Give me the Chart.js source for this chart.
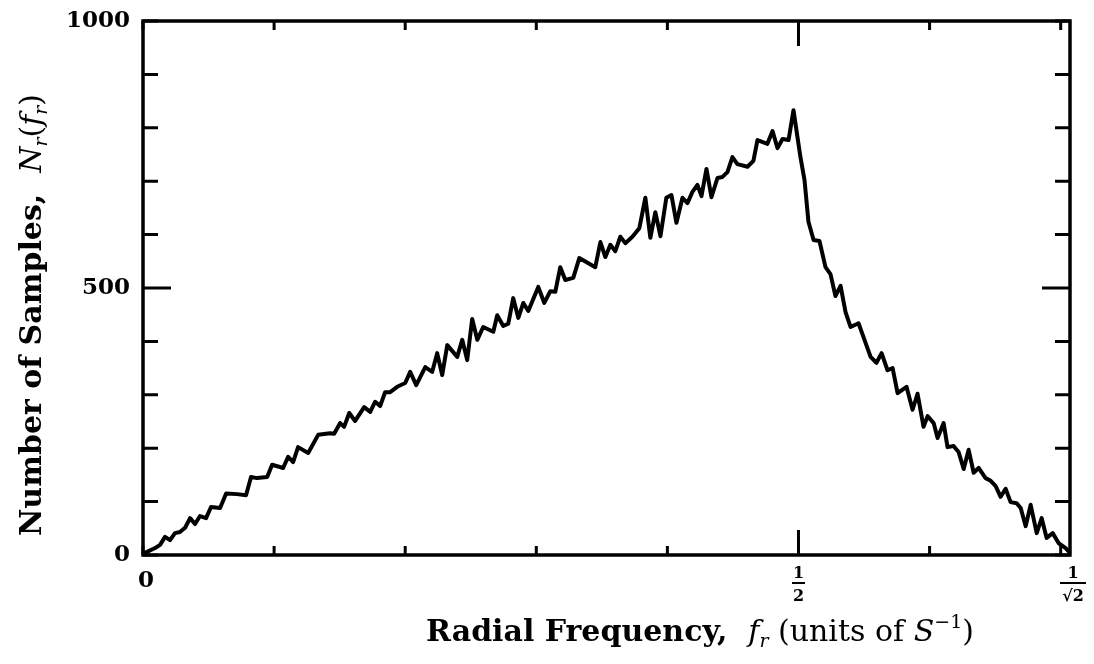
<!DOCTYPE html>
<html>
<head>
<meta charset="utf-8">
<title>Number of Samples vs Radial Frequency</title>
<script src="https://cdn.jsdelivr.net/npm/chart.js@4/dist/chart.umd.min.js"></script>
<style>
  html, body { margin: 0; padding: 0; background: #fff; }
  #chart { display: block; }
</style>
</head>
<body>
<canvas id="chart" width="1094" height="664"></canvas>
<script>
// radial frequency (units of S^-1)
const freq = [
  0, 0.0015, 0.0092, 0.0130, 0.0168, 0.0206, 0.0244, 0.0282, 0.0321, 0.0359, 0.0397,
  0.0435, 0.0481, 0.0519, 0.0588, 0.0634, 0.0718, 0.0786, 0.0824, 0.0870, 0.0947,
  0.0985, 0.1069, 0.1107, 0.1145, 0.1183, 0.1260, 0.1336, 0.1427, 0.1458, 0.1504,
  0.1534, 0.1573, 0.1618, 0.1687, 0.1733, 0.1771, 0.1809, 0.1847, 0.1885, 0.1939,
  0.2000, 0.2038, 0.2084, 0.2153, 0.2206, 0.2244, 0.2282, 0.2321, 0.2397, 0.2435,
  0.2473, 0.2511, 0.2550, 0.2595, 0.2672, 0.2702, 0.2748, 0.2786, 0.2824, 0.2863,
  0.2901, 0.2939, 0.3015, 0.3061, 0.3107, 0.3145, 0.3183, 0.3221, 0.3282, 0.3328,
  0.3450, 0.3489, 0.3527, 0.3565, 0.3603, 0.3641, 0.3679, 0.3733, 0.3786, 0.3832,
  0.3870, 0.3908, 0.3947, 0.3992, 0.4031, 0.4069, 0.4115, 0.4153, 0.4191, 0.4229,
  0.4260, 0.4298, 0.4336, 0.4382, 0.4420, 0.4458, 0.4496, 0.4534, 0.4611, 0.4656,
  0.4687, 0.4763, 0.4802, 0.4840, 0.4878, 0.4924, 0.4962, 0.4992, 0.5015, 0.5046,
  0.5076, 0.5115, 0.5160, 0.5206, 0.5244, 0.5282, 0.5321, 0.5359, 0.5397, 0.5458,
  0.5496, 0.5550, 0.5595, 0.5634, 0.5679, 0.5718, 0.5756, 0.5824, 0.5870, 0.5908,
  0.5954, 0.5985, 0.6031, 0.6061, 0.6107, 0.6137, 0.6183, 0.6221, 0.6260, 0.6298,
  0.6336, 0.6374, 0.6427, 0.6466, 0.6504, 0.6542, 0.6580, 0.6618, 0.6664, 0.6695,
  0.6733, 0.6771, 0.6817, 0.6855, 0.6893, 0.6939, 0.6985, 0.7038, 0.7071
];

// number of samples N_r(f_r) at each vertex
const counts = [
  0, 4, 13, 19, 34, 28, 41, 43, 51, 69, 58,
  73, 69, 90, 88, 115, 114, 112, 146, 144, 146,
  169, 163, 184, 174, 202, 191, 225, 228, 227, 247,
  240, 266, 251, 277, 268, 287, 279, 305, 305, 315,
  322, 343, 318, 352, 343, 378, 337, 393, 371, 403,
  365, 442, 403, 427, 418, 449, 429, 433, 481, 444,
  472, 457, 502, 472, 494, 493, 539, 515, 519, 556,
  539, 586, 558, 581, 569, 596, 584, 596, 612, 669,
  594, 642, 597, 669, 674, 622, 669, 659, 680, 693,
  672, 723, 670, 706, 708, 717, 745, 732, 727, 738,
  777, 770, 794, 762, 779, 777, 833, 783, 745, 702,
  624, 590, 588, 539, 526, 485, 504, 455, 427, 434,
  408, 371, 360, 378, 346, 350, 303, 315, 272, 302,
  240, 260, 247, 219, 247, 202, 204, 193, 161, 197,
  154, 163, 144, 139, 129, 109, 124, 99, 97, 88,
  54, 94, 41, 69, 32, 41, 22, 13, 4
];

// axis ticks
const xTicks = [0, 0.1, 0.2, 0.3, 0.4, 0.5, 0.6, 0.7];
const xMajor = [0.5];
const xMax = Math.SQRT1_2;
const yTicks = [0, 100, 200, 300, 400, 500, 600, 700, 800, 900, 1000];
const yLabels = ["0", "500", "1000"];
const yLabelValues = [0, 500, 1000];

const SERIF = '"DejaVu Serif", "Liberation Serif", serif';

// draws a run of text pieces with different fonts, centred on x
function drawRich(ctx, parts, x, y) {
  let total = 0;
  parts.forEach((p) => {
    ctx.font = p.font;
    p.w = ctx.measureText(p.text).width;
    total += p.w;
  });
  let cx = x - total / 2;
  parts.forEach((p) => {
    ctx.font = p.font;
    ctx.fillText(p.text, cx, y + (p.dy || 0));
    cx += p.w;
  });
}

function drawFraction(ctx, x, bottom, barW) {
  ctx.font = `bold 16px ${SERIF}`;
  ctx.textAlign = "center";
  ctx.textBaseline = "alphabetic";
  ctx.fillText("1", x, 578);
  ctx.fillRect(x - barW / 2, 582, barW, 2);
  ctx.fillText(bottom, x, 601);
}

const framePlugin = {
  id: "frame",
  afterDraw(chart) {
    const ctx = chart.ctx;
    const { left, right, top, bottom } = chart.chartArea;
    const xs = chart.scales.x;
    const ys = chart.scales.y;
    ctx.save();
    ctx.strokeStyle = "#000";
    ctx.fillStyle = "#000";

    // box
    ctx.lineWidth = 3.5;
    ctx.strokeRect(left, top, right - left, bottom - top);

    // inward ticks
    ctx.lineWidth = 3;
    ctx.beginPath();
    xTicks.forEach((v) => {
      const px = xs.getPixelForValue(v);
      const len = xMajor.includes(v) ? 25 : 9;
      ctx.moveTo(px, bottom);
      ctx.lineTo(px, bottom - len);
      ctx.moveTo(px, top);
      ctx.lineTo(px, top + len);
    });
    yTicks.forEach((v) => {
      const py = ys.getPixelForValue(v);
      const len = v === 500 ? 28 : 15;
      ctx.moveTo(left, py);
      ctx.lineTo(left + len, py);
      ctx.moveTo(right, py);
      ctx.lineTo(right - len, py);
    });
    ctx.stroke();

    // y tick labels
    ctx.font = `bold 23px ${SERIF}`;
    ctx.textAlign = "right";
    ctx.textBaseline = "middle";
    yLabelValues.forEach((v, i) => {
      ctx.fillText(yLabels[i], left - 13, ys.getPixelForValue(v));
    });

    // x tick labels
    ctx.textAlign = "center";
    ctx.fillText("0", xs.getPixelForValue(0) + 3, 581);
    drawFraction(ctx, xs.getPixelForValue(0.5), "2", 13);
    drawFraction(ctx, xs.getPixelForValue(xMax) + 3, "\u221A2", 26);

    // x title
    ctx.textAlign = "left";
    ctx.textBaseline = "alphabetic";
    drawRich(ctx, [
      { text: "Radial Frequency,  ", font: `bold 30px ${SERIF}` },
      { text: "f", font: `italic 30px ${SERIF}` },
      { text: "r", font: `italic 19px ${SERIF}`, dy: 6 },
      { text: " (units of ", font: `30px ${SERIF}` },
      { text: "S", font: `italic 30px ${SERIF}` },
      { text: "\u22121", font: `19px ${SERIF}`, dy: -13 },
      { text: ")", font: `30px ${SERIF}` },
    ], 700, 641);

    // y title
    ctx.translate(41, 315);
    ctx.rotate(-Math.PI / 2);
    drawRich(ctx, [
      { text: "Number of Samples,  ", font: `bold 30px ${SERIF}` },
      { text: "N", font: `italic 30px ${SERIF}` },
      { text: "r", font: `italic 19px ${SERIF}`, dy: 6 },
      { text: "(", font: `30px ${SERIF}` },
      { text: "f", font: `italic 30px ${SERIF}` },
      { text: "r", font: `italic 19px ${SERIF}`, dy: 6 },
      { text: ")", font: `30px ${SERIF}` },
    ], 0, 0);
    ctx.restore();
  },
};

const points = freq.map((f, i) => ({ x: f, y: counts[i] }));

new Chart(document.getElementById("chart"), {
  type: "scatter",
  data: {
    datasets: [
      {
        data: points,
        showLine: true,
        borderColor: "#000",
        borderWidth: 4,
        borderJoinStyle: "round",
        pointRadius: 0,
        fill: false,
      },
    ],
  },
  options: {
    responsive: false,
    animation: false,
    devicePixelRatio: 1,
    layout: { padding: { left: 143, right: 24, top: 21, bottom: 109 } },
    plugins: { legend: { display: false }, tooltip: { enabled: false } },
    scales: {
      x: { type: "linear", min: 0, max: xMax, display: false },
      y: { type: "linear", min: 0, max: 1000, display: false },
    },
  },
  plugins: [framePlugin],
});
</script>
</body>
</html>
